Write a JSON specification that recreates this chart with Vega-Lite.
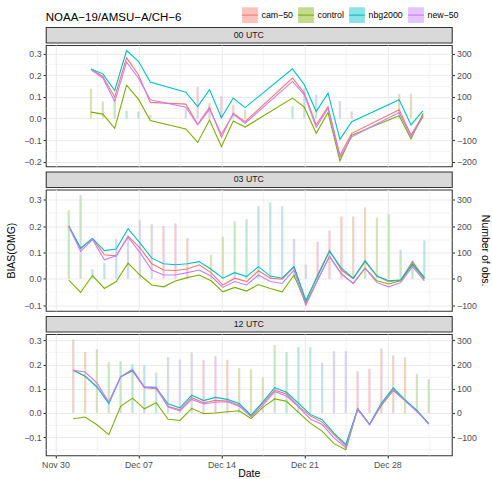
{
"$schema":"https://vega.github.io/schema/vega-lite/v6.json",
"padding":{"left":5.8,"right":2,"top":6,"bottom":0},
"background":"white",
"datasets":{"d":[
{"p":"00","d":"2019-12-03T00:00Z","cam-50":0.229,"control":0.029,"nbg2000":0.229,"new-50":0.225,"n":137},
{"p":"00","d":"2019-12-04T00:00Z","cam-50":0.194,"control":0.020,"nbg2000":0.206,"new-50":0.187,"n":78},
{"p":"00","d":"2019-12-05T00:00Z","cam-50":0.098,"control":-0.046,"nbg2000":0.129,"new-50":0.078,"n":100},
{"p":"00","d":"2019-12-06T00:00Z","cam-50":0.280,"control":0.154,"nbg2000":0.314,"new-50":0.260,"n":35},
{"p":"00","d":"2019-12-07T00:00Z","cam-50":0.202,"control":0.089,"nbg2000":0.264,"new-50":0.187,"n":32},
{"p":"00","d":"2019-12-08T00:00Z","cam-50":0.074,"control":-0.010,"nbg2000":0.168,"new-50":0.086,"n":16},
{"p":"00","d":"2019-12-11T00:00Z","cam-50":0.066,"control":-0.049,"nbg2000":0.121,"new-50":0.052,"n":42},
{"p":"00","d":"2019-12-12T00:00Z","cam-50":-0.027,"control":-0.111,"nbg2000":0.055,"new-50":-0.030,"n":146},
{"p":"00","d":"2019-12-13T00:00Z","cam-50":0.051,"control":-0.007,"nbg2000":0.133,"new-50":0.042,"n":71},
{"p":"00","d":"2019-12-14T00:00Z","cam-50":-0.087,"control":-0.131,"nbg2000":0.003,"new-50":-0.073,"n":105},
{"p":"00","d":"2019-12-15T00:00Z","cam-50":0.024,"control":-0.012,"nbg2000":0.094,"new-50":0.020,"n":63},
{"p":"00","d":"2019-12-16T00:00Z","cam-50":-0.015,"control":-0.040,"nbg2000":0.050,"new-50":-0.022,"n":40},
{"p":"00","d":"2019-12-20T00:00Z","cam-50":0.187,"control":0.094,"nbg2000":0.229,"new-50":0.171,"n":55},
{"p":"00","d":"2019-12-21T00:00Z","cam-50":0.117,"control":0.052,"nbg2000":0.156,"new-50":0.109,"n":140},
{"p":"00","d":"2019-12-22T00:00Z","cam-50":-0.030,"control":-0.069,"nbg2000":0.032,"new-50":-0.041,"n":109},
{"p":"00","d":"2019-12-23T00:00Z","cam-50":0.055,"control":0.027,"nbg2000":0.117,"new-50":0.047,"n":0},
{"p":"00","d":"2019-12-24T00:00Z","cam-50":-0.170,"control":-0.196,"nbg2000":-0.097,"new-50":-0.181,"n":81},
{"p":"00","d":"2019-12-25T00:00Z","cam-50":-0.069,"control":-0.077,"nbg2000":-0.015,"new-50":-0.085,"n":32},
{"p":"00","d":"2019-12-29T00:00Z","cam-50":0.040,"control":0.012,"nbg2000":0.086,"new-50":0.027,"n":113},
{"p":"00","d":"2019-12-30T00:00Z","cam-50":-0.077,"control":-0.095,"nbg2000":-0.030,"new-50":-0.085,"n":114},
{"p":"00","d":"2019-12-31T00:00Z","cam-50":0.012,"control":0.021,"nbg2000":0.035,"new-50":0.006,"n":25},
{"p":"03","d":"2019-12-01T03:00Z","cam-50":0.200,"control":-0.005,"nbg2000":0.200,"new-50":0.197,"n":260},
{"p":"03","d":"2019-12-02T03:00Z","cam-50":0.113,"control":-0.052,"nbg2000":0.117,"new-50":0.104,"n":318},
{"p":"03","d":"2019-12-03T03:00Z","cam-50":0.153,"control":0.012,"nbg2000":0.153,"new-50":0.149,"n":36},
{"p":"03","d":"2019-12-04T03:00Z","cam-50":0.091,"control":-0.037,"nbg2000":0.107,"new-50":0.072,"n":60},
{"p":"03","d":"2019-12-05T03:00Z","cam-50":0.087,"control":-0.011,"nbg2000":0.113,"new-50":0.087,"n":152},
{"p":"03","d":"2019-12-06T03:00Z","cam-50":0.162,"control":0.059,"nbg2000":0.190,"new-50":0.158,"n":160},
{"p":"03","d":"2019-12-07T03:00Z","cam-50":0.117,"control":0.014,"nbg2000":0.136,"new-50":0.100,"n":222},
{"p":"03","d":"2019-12-08T03:00Z","cam-50":0.057,"control":-0.024,"nbg2000":0.078,"new-50":0.033,"n":207},
{"p":"03","d":"2019-12-09T03:00Z","cam-50":0.033,"control":-0.031,"nbg2000":0.057,"new-50":0.014,"n":200},
{"p":"03","d":"2019-12-10T03:00Z","cam-50":0.031,"control":-0.009,"nbg2000":0.053,"new-50":0.014,"n":210},
{"p":"03","d":"2019-12-11T03:00Z","cam-50":0.037,"control":0.004,"nbg2000":0.057,"new-50":0.023,"n":155},
{"p":"03","d":"2019-12-12T03:00Z","cam-50":0.053,"control":0.014,"nbg2000":0.065,"new-50":0.033,"n":0},
{"p":"03","d":"2019-12-13T03:00Z","cam-50":0.023,"control":-0.008,"nbg2000":0.036,"new-50":0.010,"n":91},
{"p":"03","d":"2019-12-14T03:00Z","cam-50":-0.024,"control":-0.050,"nbg2000":0.002,"new-50":-0.033,"n":159},
{"p":"03","d":"2019-12-15T03:00Z","cam-50":0.002,"control":-0.033,"nbg2000":0.023,"new-50":-0.011,"n":217},
{"p":"03","d":"2019-12-16T03:00Z","cam-50":-0.011,"control":-0.047,"nbg2000":0.008,"new-50":-0.024,"n":226},
{"p":"03","d":"2019-12-17T03:00Z","cam-50":0.030,"control":-0.022,"nbg2000":0.046,"new-50":0.014,"n":275},
{"p":"03","d":"2019-12-18T03:00Z","cam-50":0.002,"control":-0.037,"nbg2000":0.010,"new-50":-0.011,"n":290},
{"p":"03","d":"2019-12-19T03:00Z","cam-50":-0.002,"control":-0.050,"nbg2000":0.002,"new-50":-0.018,"n":275},
{"p":"03","d":"2019-12-20T03:00Z","cam-50":0.044,"control":0.014,"nbg2000":0.046,"new-50":0.033,"n":152},
{"p":"03","d":"2019-12-21T03:00Z","cam-50":-0.088,"control":-0.095,"nbg2000":-0.082,"new-50":-0.101,"n":53},
{"p":"03","d":"2019-12-22T03:00Z","cam-50":0.015,"control":-0.005,"nbg2000":0.010,"new-50":-0.005,"n":140},
{"p":"03","d":"2019-12-23T03:00Z","cam-50":0.108,"control":0.085,"nbg2000":0.104,"new-50":0.085,"n":183},
{"p":"03","d":"2019-12-24T03:00Z","cam-50":0.033,"control":0.018,"nbg2000":0.040,"new-50":0.018,"n":236},
{"p":"03","d":"2019-12-25T03:00Z","cam-50":0.000,"control":-0.018,"nbg2000":0.002,"new-50":-0.018,"n":236},
{"p":"03","d":"2019-12-26T03:00Z","cam-50":0.065,"control":0.040,"nbg2000":0.068,"new-50":0.040,"n":271},
{"p":"03","d":"2019-12-27T03:00Z","cam-50":0.010,"control":-0.008,"nbg2000":0.010,"new-50":-0.015,"n":232},
{"p":"03","d":"2019-12-28T03:00Z","cam-50":-0.011,"control":-0.020,"nbg2000":-0.008,"new-50":-0.031,"n":245},
{"p":"03","d":"2019-12-29T03:00Z","cam-50":-0.005,"control":-0.008,"nbg2000":-0.005,"new-50":-0.015,"n":110},
{"p":"03","d":"2019-12-30T03:00Z","cam-50":0.065,"control":0.053,"nbg2000":0.057,"new-50":0.046,"n":68},
{"p":"03","d":"2019-12-31T03:00Z","cam-50":0.002,"control":-0.002,"nbg2000":0.005,"new-50":-0.008,"n":145},
{"p":"12","d":"2019-12-01T12:00Z","cam-50":0.176,"control":-0.024,"nbg2000":0.176,"new-50":0.176,"n":303},
{"p":"12","d":"2019-12-02T12:00Z","cam-50":0.153,"control":-0.017,"nbg2000":0.151,"new-50":0.169,"n":252},
{"p":"12","d":"2019-12-03T12:00Z","cam-50":0.109,"control":-0.049,"nbg2000":0.107,"new-50":0.123,"n":263},
{"p":"12","d":"2019-12-04T12:00Z","cam-50":0.042,"control":-0.090,"nbg2000":0.038,"new-50":0.045,"n":209},
{"p":"12","d":"2019-12-05T12:00Z","cam-50":0.150,"control":0.027,"nbg2000":0.148,"new-50":0.150,"n":213},
{"p":"12","d":"2019-12-06T12:00Z","cam-50":0.173,"control":0.061,"nbg2000":0.176,"new-50":0.180,"n":201},
{"p":"12","d":"2019-12-07T12:00Z","cam-50":0.104,"control":0.017,"nbg2000":0.107,"new-50":0.107,"n":197},
{"p":"12","d":"2019-12-08T12:00Z","cam-50":0.100,"control":0.042,"nbg2000":0.104,"new-50":0.107,"n":167},
{"p":"12","d":"2019-12-09T12:00Z","cam-50":0.027,"control":-0.026,"nbg2000":0.038,"new-50":0.024,"n":231},
{"p":"12","d":"2019-12-10T12:00Z","cam-50":0.013,"control":-0.031,"nbg2000":0.021,"new-50":0.008,"n":222},
{"p":"12","d":"2019-12-11T12:00Z","cam-50":0.063,"control":0.019,"nbg2000":0.073,"new-50":0.056,"n":250},
{"p":"12","d":"2019-12-12T12:00Z","cam-50":0.042,"control":-0.003,"nbg2000":0.051,"new-50":0.037,"n":218},
{"p":"12","d":"2019-12-13T12:00Z","cam-50":0.052,"control":0.000,"nbg2000":0.064,"new-50":0.044,"n":234},
{"p":"12","d":"2019-12-14T12:00Z","cam-50":0.049,"control":0.005,"nbg2000":0.056,"new-50":0.046,"n":220},
{"p":"12","d":"2019-12-15T12:00Z","cam-50":0.032,"control":0.009,"nbg2000":0.039,"new-50":0.028,"n":185},
{"p":"12","d":"2019-12-16T12:00Z","cam-50":-0.012,"control":-0.023,"nbg2000":-0.009,"new-50":-0.016,"n":179},
{"p":"12","d":"2019-12-17T12:00Z","cam-50":0.040,"control":0.023,"nbg2000":0.046,"new-50":0.032,"n":145},
{"p":"12","d":"2019-12-18T12:00Z","cam-50":0.094,"control":0.058,"nbg2000":0.104,"new-50":0.088,"n":280},
{"p":"12","d":"2019-12-19T12:00Z","cam-50":0.078,"control":0.048,"nbg2000":0.085,"new-50":0.070,"n":252},
{"p":"12","d":"2019-12-20T12:00Z","cam-50":0.028,"control":0.002,"nbg2000":0.040,"new-50":0.025,"n":271},
{"p":"12","d":"2019-12-21T12:00Z","cam-50":-0.012,"control":-0.042,"nbg2000":-0.006,"new-50":-0.025,"n":271},
{"p":"12","d":"2019-12-22T12:00Z","cam-50":-0.038,"control":-0.075,"nbg2000":-0.028,"new-50":-0.048,"n":207},
{"p":"12","d":"2019-12-23T12:00Z","cam-50":-0.090,"control":-0.127,"nbg2000":-0.083,"new-50":-0.103,"n":255},
{"p":"12","d":"2019-12-24T12:00Z","cam-50":-0.137,"control":-0.152,"nbg2000":-0.130,"new-50":-0.144,"n":255},
{"p":"12","d":"2019-12-25T12:00Z","cam-50":0.017,"control":0.017,"nbg2000":0.018,"new-50":0.016,"n":172},
{"p":"12","d":"2019-12-26T12:00Z","cam-50":-0.048,"control":-0.048,"nbg2000":-0.047,"new-50":-0.049,"n":180},
{"p":"12","d":"2019-12-27T12:00Z","cam-50":0.038,"control":0.031,"nbg2000":0.041,"new-50":0.036,"n":266},
{"p":"12","d":"2019-12-28T12:00Z","cam-50":0.098,"control":0.093,"nbg2000":0.104,"new-50":0.093,"n":237},
{"p":"12","d":"2019-12-29T12:00Z","cam-50":0.052,"control":0.052,"nbg2000":0.054,"new-50":0.050,"n":230},
{"p":"12","d":"2019-12-30T12:00Z","cam-50":0.008,"control":0.008,"nbg2000":0.010,"new-50":0.006,"n":162},
{"p":"12","d":"2019-12-31T12:00Z","cam-50":-0.045,"control":-0.045,"nbg2000":-0.045,"new-50":-0.046,"n":139}
]},
"data":{"name":"d"},
"spacing":3.5,
"vconcat":[
{"spacing":0,"vconcat":[
 {"width":406,"height":15.5,
  "title":{"text":"NOAA−19/AMSU−A/CH−6","anchor":"start","frame":"group","fontSize":11.5,"fontWeight":"normal","color":"#000000","baseline":"alphabetic","offset":-5.4},
  "data":{"values":[{"lab":"00 UTC"}]},
  "mark":{"type":"text","fontSize":8.8,"color":"#1a1a1a"},
  "encoding":{"text":{"field":"lab","type":"nominal"}},
  "view":{"fill":"#d9d9d9","stroke":"#333333","strokeWidth":1.07}},
 {"width":406,"height":121.3,
  "view":{"stroke":"#333333","strokeWidth":1.07},
  "transform":[{"filter":"datum.p=='00'"},{"fold":["cam-50","control","nbg2000","new-50"],"as":["e","b"]}],
  "encoding":{"x":{"field":"d","type":"temporal","scale":{"type":"utc","domain":[{"year":2019,"month":11,"date":29,"hours":14,"minutes":33,"utc":true},{"year":2020,"month":1,"date":2,"hours":0,"minutes":27,"utc":true}]},
   "axis":{"title":null,"labels":false,"ticks":false,"grid":true,"gridWidth":{"condition":{"test":"utchours(datum.value)==0","value":1.07},"value":0.53},
    "values":[{"year":2019,"month":11,"date":30,"utc":true},{"year":2019,"month":12,"date":3,"hours":12,"utc":true},{"year":2019,"month":12,"date":7,"utc":true},{"year":2019,"month":12,"date":10,"hours":12,"utc":true},{"year":2019,"month":12,"date":14,"utc":true},{"year":2019,"month":12,"date":17,"hours":12,"utc":true},{"year":2019,"month":12,"date":21,"utc":true},{"year":2019,"month":12,"date":24,"hours":12,"utc":true},{"year":2019,"month":12,"date":28,"utc":true},{"year":2019,"month":12,"date":31,"hours":12,"utc":true}]}}},
  "resolve":{"scale":{"y":"independent"}},
  "layer":[
   {"encoding":{"y":{"field":"n","type":"quantitative","scale":{"domain":[-221.5,339.5],"nice":false,"zero":false},"axis":{"orient":"right","title":null,"grid":false,"values":[-200,-100,0,100,200,300],"format":"d"}},
     "fill":{"field":"e","type":"nominal","scale":{"domain":["cam-50","control","nbg2000","new-50"],"range":["#FCC1BD","#C4DA8C","#8CE2E4","#E6C4FF"]},"legend":{"orient":"none","legendX":195.7,"legendY":-20.6,"direction":"horizontal","title":null,"symbolType":"M-1,0L1,0L1,-1L-1,-1L-1,1L1,1L1,0Z","symbolSize":250,"symbolStrokeWidth":1.1,"symbolDash":[15.8,200],"labelOffset":3,"columnPadding":2,"labelFontSize":8.8,"labelExpr":"replace(datum.label,'-','−')"}}},
    "layer":[
     {"transform":[{"filter":"datum.e=='cam-50'"}],"mark":{"type":"bar","width":0.55,"xOffset":-0.83}},
     {"transform":[{"filter":"datum.e=='control'"}],"mark":{"type":"bar","width":0.55,"xOffset":-0.28}},
     {"transform":[{"filter":"datum.e=='nbg2000'"}],"mark":{"type":"bar","width":0.55,"xOffset":0.28}},
     {"transform":[{"filter":"datum.e=='new-50'"}],"mark":{"type":"bar","width":0.55,"xOffset":0.83}}
    ]},
   {"mark":{"type":"line","strokeWidth":1.1},
    "encoding":{"y":{"field":"b","type":"quantitative","scale":{"domain":[-0.2215,0.3395],"nice":false,"zero":false},
      "axis":{"orient":"left","title":null,"values":[-0.2,-0.15,-0.1,-0.05,0,0.05,0.1,0.15,0.2,0.25,0.3],"labelExpr":"abs(datum.value*10-round(datum.value*10))<0.01 ? format(datum.value,'.1f') : ''","grid":true,"gridWidth":{"condition":{"test":"abs(datum.value*10-round(datum.value*10))<0.01","value":1.07},"value":0.53},"tickOpacity":{"condition":{"test":"abs(datum.value*10-round(datum.value*10))<0.01","value":1},"value":0}}},
     "stroke":{"field":"e","type":"nominal","scale":{"domain":["cam-50","control","nbg2000","new-50"],"range":["#F8766D","#7CAE00","#00BFC4","#C77CFF"]},"legend":{"orient":"none","legendX":195.7,"legendY":-20.6,"direction":"horizontal","title":null,"symbolType":"M-1,0L1,0L1,-1L-1,-1L-1,1L1,1L1,0Z","symbolSize":250,"symbolStrokeWidth":1.1,"symbolDash":[15.8,200],"labelOffset":3,"columnPadding":2,"labelFontSize":8.8,"labelExpr":"replace(datum.label,'-','−')"}}}}
  ]}
]},
{"spacing":0,"vconcat":[
 {"width":406,"height":15.5,
  "data":{"values":[{"lab":"03 UTC"}]},
  "mark":{"type":"text","fontSize":8.8,"color":"#1a1a1a"},
  "encoding":{"text":{"field":"lab","type":"nominal"}},
  "view":{"fill":"#d9d9d9","stroke":"#333333","strokeWidth":1.07}},
 {"width":406,"height":121.3,
  "view":{"stroke":"#333333","strokeWidth":1.07},
  "transform":[{"filter":"datum.p=='03'"},{"fold":["cam-50","control","nbg2000","new-50"],"as":["e","b"]}],
  "encoding":{"x":{"field":"d","type":"temporal","scale":{"type":"utc","domain":[{"year":2019,"month":11,"date":29,"hours":14,"minutes":33,"utc":true},{"year":2020,"month":1,"date":2,"hours":0,"minutes":27,"utc":true}]},
   "axis":{"title":null,"labels":false,"ticks":false,"grid":true,"gridWidth":{"condition":{"test":"utchours(datum.value)==0","value":1.07},"value":0.53},
    "values":[{"year":2019,"month":11,"date":30,"utc":true},{"year":2019,"month":12,"date":3,"hours":12,"utc":true},{"year":2019,"month":12,"date":7,"utc":true},{"year":2019,"month":12,"date":10,"hours":12,"utc":true},{"year":2019,"month":12,"date":14,"utc":true},{"year":2019,"month":12,"date":17,"hours":12,"utc":true},{"year":2019,"month":12,"date":21,"utc":true},{"year":2019,"month":12,"date":24,"hours":12,"utc":true},{"year":2019,"month":12,"date":28,"utc":true},{"year":2019,"month":12,"date":31,"hours":12,"utc":true}]}}},
  "resolve":{"scale":{"y":"independent"}},
  "layer":[
   {"encoding":{"y":{"field":"n","type":"quantitative","scale":{"domain":[-122,339],"nice":false,"zero":false},"axis":{"orient":"right","title":"Number of obs.","grid":false,"values":[-100,0,100,200,300],"format":"d"}},
     "fill":{"field":"e","type":"nominal","scale":{"domain":["cam-50","control","nbg2000","new-50"],"range":["#FCC1BD","#C4DA8C","#8CE2E4","#E6C4FF"]},"legend":{"orient":"none","legendX":195.7,"legendY":-20.6,"direction":"horizontal","title":null,"symbolType":"M-1,0L1,0L1,-1L-1,-1L-1,1L1,1L1,0Z","symbolSize":250,"symbolStrokeWidth":1.1,"symbolDash":[15.8,200],"labelOffset":3,"columnPadding":2,"labelFontSize":8.8,"labelExpr":"replace(datum.label,'-','−')"}}},
    "layer":[
     {"transform":[{"filter":"datum.e=='cam-50'"}],"mark":{"type":"bar","width":0.55,"xOffset":-0.83}},
     {"transform":[{"filter":"datum.e=='control'"}],"mark":{"type":"bar","width":0.55,"xOffset":-0.28}},
     {"transform":[{"filter":"datum.e=='nbg2000'"}],"mark":{"type":"bar","width":0.55,"xOffset":0.28}},
     {"transform":[{"filter":"datum.e=='new-50'"}],"mark":{"type":"bar","width":0.55,"xOffset":0.83}}
    ]},
   {"mark":{"type":"line","strokeWidth":1.1},
    "encoding":{"y":{"field":"b","type":"quantitative","scale":{"domain":[-0.122,0.339],"nice":false,"zero":false},
      "axis":{"orient":"left","title":"BIAS(OMG)","titlePadding":7,"values":[-0.1,-0.05,0,0.05,0.1,0.15,0.2,0.25,0.3],"labelExpr":"abs(datum.value*10-round(datum.value*10))<0.01 ? format(datum.value,'.1f') : ''","grid":true,"gridWidth":{"condition":{"test":"abs(datum.value*10-round(datum.value*10))<0.01","value":1.07},"value":0.53},"tickOpacity":{"condition":{"test":"abs(datum.value*10-round(datum.value*10))<0.01","value":1},"value":0}}},
     "stroke":{"field":"e","type":"nominal","scale":{"domain":["cam-50","control","nbg2000","new-50"],"range":["#F8766D","#7CAE00","#00BFC4","#C77CFF"]},"legend":{"orient":"none","legendX":195.7,"legendY":-20.6,"direction":"horizontal","title":null,"symbolType":"M-1,0L1,0L1,-1L-1,-1L-1,1L1,1L1,0Z","symbolSize":250,"symbolStrokeWidth":1.1,"symbolDash":[15.8,200],"labelOffset":3,"columnPadding":2,"labelFontSize":8.8,"labelExpr":"replace(datum.label,'-','−')"}}}}
  ]}
]},
{"spacing":0,"vconcat":[
 {"width":406,"height":15.5,
  "data":{"values":[{"lab":"12 UTC"}]},
  "mark":{"type":"text","fontSize":8.8,"color":"#1a1a1a"},
  "encoding":{"text":{"field":"lab","type":"nominal"}},
  "view":{"fill":"#d9d9d9","stroke":"#333333","strokeWidth":1.07}},
 {"width":406,"height":121.3,
  "view":{"stroke":"#333333","strokeWidth":1.07},
  "transform":[{"filter":"datum.p=='12'"},{"fold":["cam-50","control","nbg2000","new-50"],"as":["e","b"]}],
  "encoding":{"x":{"field":"d","type":"temporal","scale":{"type":"utc","domain":[{"year":2019,"month":11,"date":29,"hours":14,"minutes":33,"utc":true},{"year":2020,"month":1,"date":2,"hours":0,"minutes":27,"utc":true}]},
   "axis":{"title":"Date","titlePadding":0,"labelExpr":"utchours(datum.value)==0 ? utcFormat(datum.value,'%b %d') : ''","tickOpacity":{"condition":{"test":"utchours(datum.value)==0","value":1},"value":0},"grid":true,"gridWidth":{"condition":{"test":"utchours(datum.value)==0","value":1.07},"value":0.53},
    "values":[{"year":2019,"month":11,"date":30,"utc":true},{"year":2019,"month":12,"date":3,"hours":12,"utc":true},{"year":2019,"month":12,"date":7,"utc":true},{"year":2019,"month":12,"date":10,"hours":12,"utc":true},{"year":2019,"month":12,"date":14,"utc":true},{"year":2019,"month":12,"date":17,"hours":12,"utc":true},{"year":2019,"month":12,"date":21,"utc":true},{"year":2019,"month":12,"date":24,"hours":12,"utc":true},{"year":2019,"month":12,"date":28,"utc":true},{"year":2019,"month":12,"date":31,"hours":12,"utc":true}]}}},
  "resolve":{"scale":{"y":"independent"}},
  "layer":[
   {"encoding":{"y":{"field":"n","type":"quantitative","scale":{"domain":[-175,326],"nice":false,"zero":false},"axis":{"orient":"right","title":null,"grid":false,"values":[-100,0,100,200,300],"format":"d"}},
     "fill":{"field":"e","type":"nominal","scale":{"domain":["cam-50","control","nbg2000","new-50"],"range":["#FCC1BD","#C4DA8C","#8CE2E4","#E6C4FF"]},"legend":{"orient":"none","legendX":195.7,"legendY":-20.6,"direction":"horizontal","title":null,"symbolType":"M-1,0L1,0L1,-1L-1,-1L-1,1L1,1L1,0Z","symbolSize":250,"symbolStrokeWidth":1.1,"symbolDash":[15.8,200],"labelOffset":3,"columnPadding":2,"labelFontSize":8.8,"labelExpr":"replace(datum.label,'-','−')"}}},
    "layer":[
     {"transform":[{"filter":"datum.e=='cam-50'"}],"mark":{"type":"bar","width":0.55,"xOffset":-0.83}},
     {"transform":[{"filter":"datum.e=='control'"}],"mark":{"type":"bar","width":0.55,"xOffset":-0.28}},
     {"transform":[{"filter":"datum.e=='nbg2000'"}],"mark":{"type":"bar","width":0.55,"xOffset":0.28}},
     {"transform":[{"filter":"datum.e=='new-50'"}],"mark":{"type":"bar","width":0.55,"xOffset":0.83}}
    ]},
   {"mark":{"type":"line","strokeWidth":1.1},
    "encoding":{"y":{"field":"b","type":"quantitative","scale":{"domain":[-0.175,0.326],"nice":false,"zero":false},
      "axis":{"orient":"left","title":null,"values":[-0.15,-0.1,-0.05,0,0.05,0.1,0.15,0.2,0.25,0.3],"labelExpr":"abs(datum.value*10-round(datum.value*10))<0.01 ? format(datum.value,'.1f') : ''","grid":true,"gridWidth":{"condition":{"test":"abs(datum.value*10-round(datum.value*10))<0.01","value":1.07},"value":0.53},"tickOpacity":{"condition":{"test":"abs(datum.value*10-round(datum.value*10))<0.01","value":1},"value":0}}},
     "stroke":{"field":"e","type":"nominal","scale":{"domain":["cam-50","control","nbg2000","new-50"],"range":["#F8766D","#7CAE00","#00BFC4","#C77CFF"]},"legend":{"orient":"none","legendX":195.7,"legendY":-20.6,"direction":"horizontal","title":null,"symbolType":"M-1,0L1,0L1,-1L-1,-1L-1,1L1,1L1,0Z","symbolSize":250,"symbolStrokeWidth":1.1,"symbolDash":[15.8,200],"labelOffset":3,"columnPadding":2,"labelFontSize":8.8,"labelExpr":"replace(datum.label,'-','−')"}}}}
  ]}
]}
],
"config":{
 "font":"Liberation Sans",
 "axis":{"labelFontSize":8.8,"labelColor":"#4d4d4d","tickColor":"#333333","tickSize":2.75,"tickWidth":1.07,"titleFontSize":10.5,"titleFontWeight":"normal","titleColor":"#000000","domain":false,"labelPadding":2,"titlePadding":3,"gridColor":"#ebebeb","labelOverlap":false,"labelFlush":false},
 "legend":{"labelFontSize":8.8,"labelColor":"#000000","labelFont":"Liberation Sans"}
}
}
